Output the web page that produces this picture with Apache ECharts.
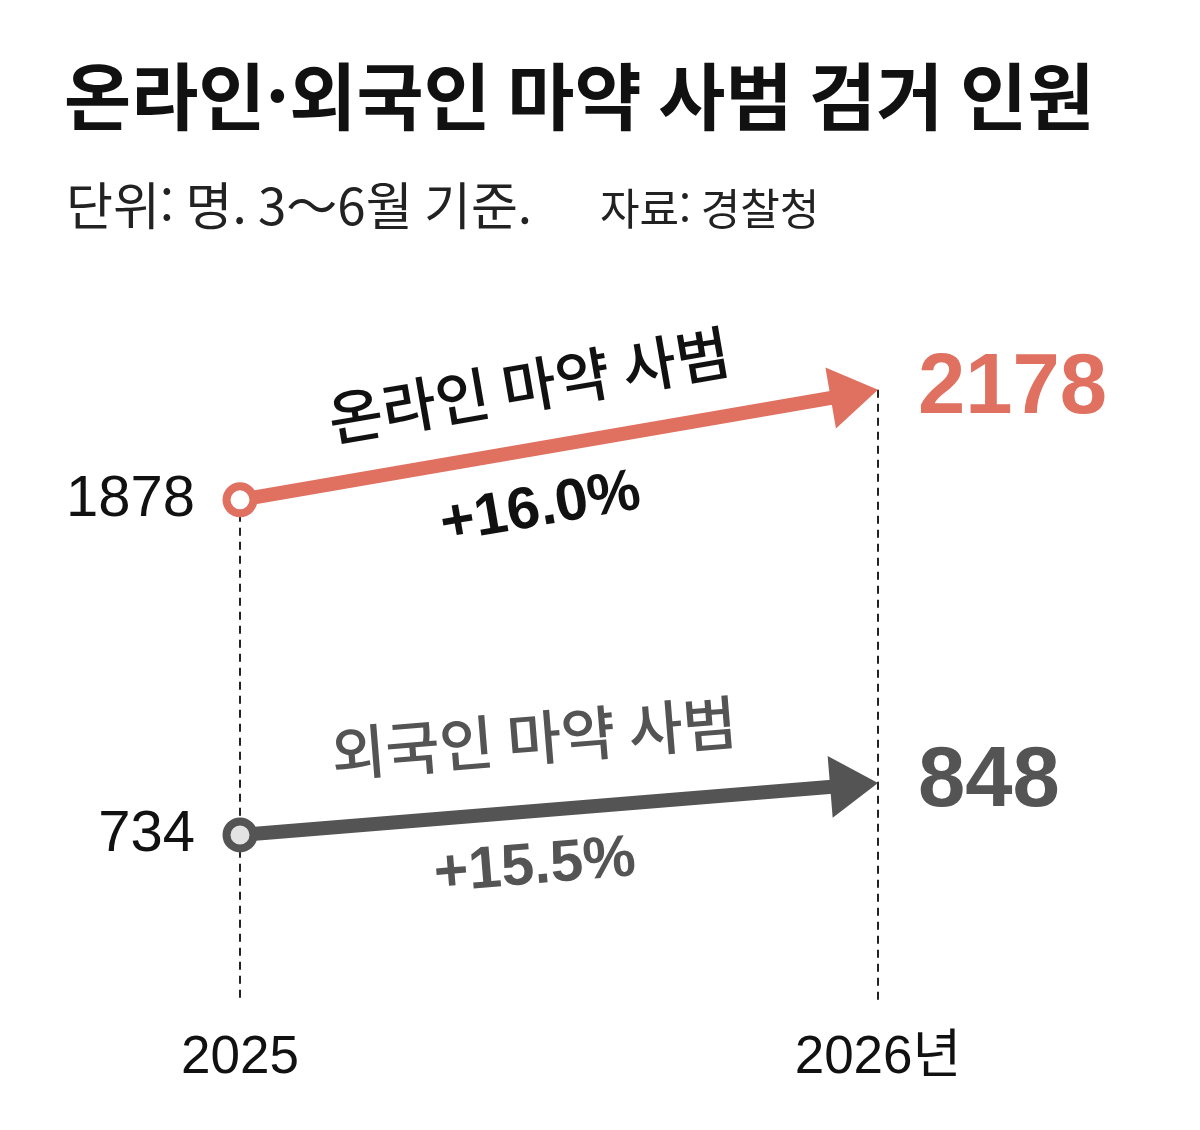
<!DOCTYPE html>
<html lang="ko">
<head>
    <meta charset="UTF-8">
    <title>온라인·외국인 마약 사범 검거 인원</title>
    <script src="https://cdn.jsdelivr.net/npm/echarts@6/dist/echarts.min.js"></script>
    <style>
        html, body { margin: 0; padding: 0; background: #fff; }
        #chart { width: 1200px; height: 1130px; }
    </style>
</head>
<body>
    <div id="chart"></div>
    <script>
        // data
        let years = ['2025', '2026년'];
        let seriesNames = ['온라인 마약 사범', '외국인 마약 사범'];
        let onlineValues = [1878, 2178];
        let foreignValues = [734, 848];

        let KR = "'Noto Sans CJK KR', sans-serif";
        let NUM = "'Liberation Sans', Arial, 'Noto Sans CJK KR', sans-serif";
        let RED = '#E07060';
        let GRAY = '#545454';

        function pctText(v) {
            let p = (v[1] - v[0]) / v[0] * 100;
            return (p >= 0 ? '+' : '') + p.toFixed(1) + '%';
        }

        // arrow + circle + labels for one series
        function arrowRenderer(opt) {
            return function (params, api) {
                let p0 = api.coord([api.value(0), api.value(1)]);
                let p1 = api.coord([api.value(2), api.value(3)]);
                let dx = p1[0] - p0[0], dy = p1[1] - p0[1];
                let len = Math.sqrt(dx * dx + dy * dy);
                let ux = dx / len, uy = dy / len;
                let nx = uy, ny = -ux;            // normal pointing up
                let angle = Math.atan2(-dy, dx);
                let headLen = 48, hw = 31;
                let bx = p1[0] - ux * headLen, by = p1[1] - uy * headLen;

                function along(t, off) {
                    let x = p0[0] + t * dx, y = p0[1] + t * dy;
                    return [x + nx * off, y + ny * off];
                }
                let nameAt = along(0.47, opt.nameOff);
                let pctAt = along(0.455, -opt.pctOff);

                return {
                    type: 'group',
                    children: [
                        {
                            type: 'line',
                            shape: { x1: p0[0], y1: p0[1], x2: bx + ux * 2, y2: by + uy * 2 },
                            style: { stroke: opt.color, lineWidth: 14 }
                        },
                        {
                            type: 'polygon',
                            shape: { points: [[p1[0], p1[1]], [bx + nx * hw, by + ny * hw], [bx - nx * hw, by - ny * hw]] },
                            style: { fill: opt.color }
                        },
                        {
                            type: 'circle',
                            shape: { cx: p0[0], cy: p0[1], r: 13.5 },
                            style: { fill: opt.circleFill, stroke: opt.color, lineWidth: 8 }
                        },
                        {
                            type: 'text', x: p0[0] - 45, y: p0[1],
                            style: {
                                text: String(api.value(1)), fill: '#111',
                                fontSize: 58, fontFamily: NUM,
                                align: 'right', verticalAlign: 'middle'
                            }
                        },
                        {
                            type: 'text', x: p1[0] + 40, y: p1[1],
                            style: {
                                text: String(api.value(3)), fill: opt.color,
                                fontSize: 85, fontWeight: 'bold', fontFamily: NUM,
                                align: 'left', verticalAlign: 'middle'
                            }
                        },
                        {
                            type: 'text', x: nameAt[0], y: nameAt[1], rotation: angle,
                            style: {
                                text: opt.name, fill: opt.nameColor,
                                fontSize: 59, fontWeight: 500, fontFamily: KR,
                                align: 'center', verticalAlign: 'middle'
                            }
                        },
                        {
                            type: 'text', x: pctAt[0], y: pctAt[1], rotation: angle,
                            style: {
                                text: opt.pct, fill: opt.nameColor,
                                fontSize: 59, fontWeight: 'bold', fontFamily: NUM,
                                align: 'center', verticalAlign: 'middle'
                            }
                        }
                    ]
                };
            };
        }

        // dashed guides from the upper series down to the axis
        function guideRenderer(params, api) {
            let p = api.coord([api.value(0), api.value(1)]);
            let bottom = params.coordSys.y + params.coordSys.height;
            return {
                type: 'line',
                shape: { x1: p[0], y1: p[1], x2: p[0], y2: bottom },
                style: { stroke: '#222', lineWidth: 2, lineDash: [8, 6] }
            };
        }

        let chart = echarts.init(document.getElementById('chart'));
        chart.setOption({
            backgroundColor: '#fff',
            animation: false,
            title: [
                {
                    text: '온라인·외국인 마약 사범 검거 인원',
                    left: 64, top: 60, padding: 0,
                    textStyle: { fontSize: 73, fontWeight: 'bold', color: '#111', fontFamily: KR }
                },
                {
                    text: '단위: 명. 3～6월 기준.',
                    left: 66, top: 180, padding: 0,
                    textStyle: { fontSize: 51, fontWeight: 'normal', color: '#222', fontFamily: KR }
                },
                {
                    text: '자료: 경찰청',
                    left: 600, top: 187, padding: 0,
                    textStyle: { fontSize: 43, fontWeight: 'normal', color: '#222', fontFamily: KR }
                }
            ],
            grid: { left: 240, right: 322, top: 300, bottom: 130 },
            xAxis: {
                type: 'category',
                data: years,
                boundaryGap: false,
                axisLine: { show: false },
                axisTick: { show: false },
                splitLine: { show: false },
                axisLabel: { fontSize: 53, color: '#111', fontFamily: NUM, margin: 32 }
            },
            yAxis: [
                { type: 'value', min: 514, max: 2423, show: false },
                { type: 'value', min: 372, max: 1907, show: false }
            ],
            series: [
                {
                    type: 'custom',
                    yAxisIndex: 0,
                    clip: false,
                    z: 1,
                    silent: true,
                    data: [[0, onlineValues[0]], [1, onlineValues[1]]],
                    renderItem: guideRenderer
                },
                {
                    type: 'custom',
                    name: seriesNames[0],
                    yAxisIndex: 0,
                    clip: false,
                    z: 3,
                    encode: { x: [0, 2], y: [1, 3] },
                    data: [[0, onlineValues[0], 1, onlineValues[1]]],
                    renderItem: arrowRenderer({
                        color: RED, circleFill: '#fff', nameColor: '#111',
                        name: seriesNames[0], pct: pctText(onlineValues),
                        nameOff: 64, pctOff: 60
                    })
                },
                {
                    type: 'custom',
                    name: seriesNames[1],
                    yAxisIndex: 1,
                    clip: false,
                    z: 3,
                    encode: { x: [0, 2], y: [1, 3] },
                    data: [[0, foreignValues[0], 1, foreignValues[1]]],
                    renderItem: arrowRenderer({
                        color: GRAY, circleFill: '#e3e3e3', nameColor: GRAY,
                        name: seriesNames[1], pct: pctText(foreignValues),
                        nameOff: 73, pctOff: 56
                    })
                }
            ]
        });
    </script>
</body>
</html>
